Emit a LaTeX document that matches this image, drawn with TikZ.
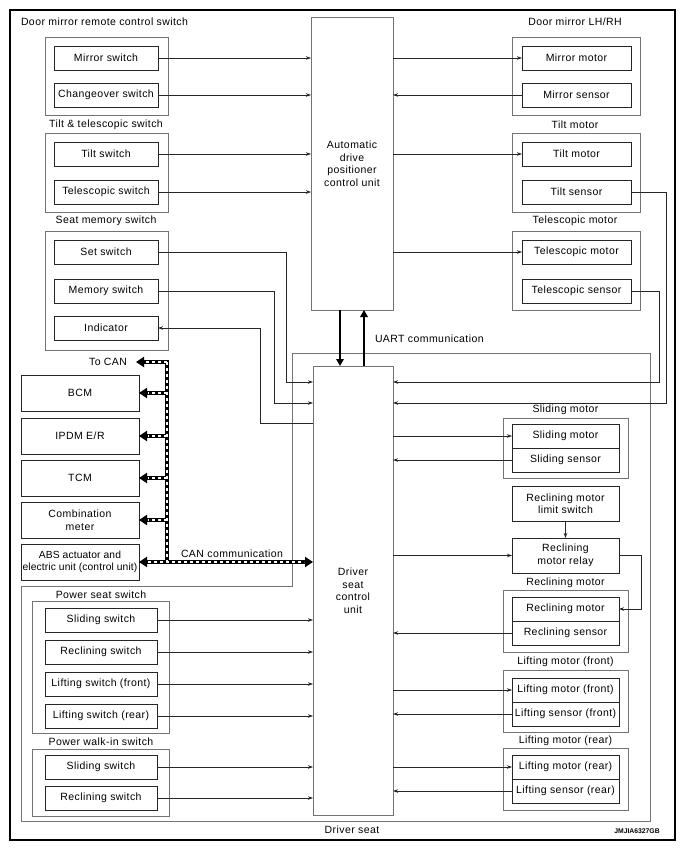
\documentclass[tikz,border=0pt]{standalone}
\usepackage{fontspec}
\setmainfont{Liberation Sans}[LetterSpace=4]
\newfontfamily\codefont{Liberation Sans}
\newfontfamily\tightfont{Liberation Sans}[LetterSpace=1]
\usetikzlibrary{arrows.meta}
\begin{document}
\begin{tikzpicture}[x=1pt,y=-1pt,
  font=\fontsize{10.5}{12.5}\selectfont,
  every node/.style={inner sep=1pt, outer sep=0pt},
  inbox/.style={draw=black!85, line width=0.7pt, align=center},
  grp/.style={draw=black!55, line width=0.9pt},
  unit/.style={draw=black!55, line width=0.9pt, align=center},
  arr/.style={draw=black!85, line width=0.7pt, -{Stealth[length=5pt,width=3.5pt]}},
  uart/.style={draw=black, line width=2.6pt, -{Triangle[length=7pt,width=7.5pt]}},
  canb/.style={draw=black, line width=4.4pt},
  canw/.style={draw=white, line width=1.8pt, dash pattern=on 3pt off 3pt},
  canarr/.style={-{Triangle[length=8pt,width=10pt]}},
  canarrs/.style={{Triangle[length=8pt,width=10pt]}-{Triangle[length=8pt,width=10pt]}}
]
\useasboundingbox (0,0) rectangle (686,850);
\fill[white] (0,0) rectangle (686,850);
\draw[line width=2.5pt] (10,10) rectangle (675,840);

% ---- left top: switches
\node[anchor=west] (lblDM) at (20,22) {Door mirror remote control switch};
\node[grp, minimum width=123, minimum height=78] (gDM) at (106.5,76) {};
\node[inbox, minimum width=104, minimum height=24] (msw) at (106,58) {Mirror switch};
\node[inbox, minimum width=104, minimum height=24] (cosw) at (106,95) {Changeover switch};
\node (lblTT) at (106,125) {Tilt \& telescopic switch};
\node[grp, minimum width=123, minimum height=79] (gTT) at (106.5,172.5) {};
\node[inbox, minimum width=104, minimum height=24] (tsw) at (106,154) {Tilt switch};
\node[inbox, minimum width=104, minimum height=24] (tesw) at (106,192) {Telescopic switch};
\node (lblSM) at (106,221) {Seat memory switch};
\node[grp, minimum width=123, minimum height=119] (gSM) at (106.5,290.5) {};
\node[inbox, minimum width=104, minimum height=24] (setsw) at (106,252) {Set switch};
\node[inbox, minimum width=104, minimum height=24] (memsw) at (106,291) {Memory switch};
\node[inbox, minimum width=104, minimum height=24] (ind) at (106,328) {Indicator};

% ---- ADPCU
\node[unit, minimum width=82, minimum height=293] (adp) at (352,163.5) {Automatic\\drive\\positioner\\control unit};

% ---- right top
\node (lblDR) at (575,22) {Door mirror LH/RH};
\node[grp, minimum width=128, minimum height=78] (gDR) at (576,76) {};
\node[inbox, minimum width=109, minimum height=24] (mmot) at (576.5,58) {Mirror motor};
\node[inbox, minimum width=109, minimum height=24] (msen) at (576.5,95) {Mirror sensor};
\node (lblTM) at (575,125) {Tilt motor};
\node[grp, minimum width=128, minimum height=79] (gTM) at (576,172.5) {};
\node[inbox, minimum width=109, minimum height=24] (tmot) at (576.5,154) {Tilt motor};
\node[inbox, minimum width=109, minimum height=24] (tsen) at (576.5,192) {Tilt sensor};
\node (lblTeM) at (575,221) {Telescopic motor};
\node[grp, minimum width=128, minimum height=79] (gTeM) at (576,270.5) {};
\node[inbox, minimum width=109, minimum height=24] (temot) at (576.5,252) {Telescopic motor};
\node[inbox, minimum width=109, minimum height=24] (tesen) at (576.5,291) {Telescopic sensor};

% ---- driver seat outline
\draw[grp] (292,353) -- (650,353) -- (650,821) -- (21,821) -- (21,586) -- (292,586) -- cycle;
\node (lblDS) at (352,829.5) {Driver seat};

% ---- DSCU
\node[unit, minimum width=80, minimum height=449] (dscu) at (353,590.5) {Driver\\seat\\control\\unit};

% ---- UART
\coordinate (uA) at (340,0);
\coordinate (uB) at (364,0);
\draw[uart] (adp.south -| uA) -- (dscu.north -| uA);
\draw[uart] (dscu.north -| uB) -- (adp.south -| uB);
\node[anchor=west] (lblUART) at (374,339) {UART communication};

% ---- CAN boxes
\node[inbox, minimum width=118, minimum height=36] (bcm) at (80,393) {BCM};
\node[inbox, minimum width=118, minimum height=36] (ipdm) at (80,436) {IPDM E/R};
\node[inbox, minimum width=118, minimum height=36] (tcm) at (80,478) {TCM};
\node[inbox, minimum width=118, minimum height=36] (comb) at (80,520) {Combination\\meter};
\node[inbox, minimum width=118, minimum height=36, inner sep=0pt, font=\tightfont\fontsize{10.3}{12.5}\selectfont] (abs) at (80,562) {ABS actuator and\\electric unit (control unit)};
\node[anchor=east] (tocan) at (128,362) {To CAN};

% ---- power seat switches
\node (lblPS) at (101,595) {Power seat switch};
\node[grp, minimum width=137, minimum height=132] (gPS) at (100.5,667) {};
\node[inbox, minimum width=112, minimum height=24] (sl1) at (101,620) {Sliding switch};
\node[inbox, minimum width=112, minimum height=24] (rc1) at (101,652) {Reclining switch};
\node[inbox, minimum width=112, minimum height=24] (lf1) at (101,684) {Lifting switch (front)};
\node[inbox, minimum width=112, minimum height=24] (lr1) at (101,716) {Lifting switch (rear)};
\node (lblPW) at (101,742) {Power walk-in switch};
\node[grp, minimum width=137, minimum height=67] (gPW) at (100.5,782.5) {};
\node[inbox, minimum width=112, minimum height=24] (sl2) at (101,767) {Sliding switch};
\node[inbox, minimum width=112, minimum height=24] (rc2) at (101,798) {Reclining switch};

% ---- right lower
\node (lblSLm) at (565.5,410) {Sliding motor};
\node[grp, minimum width=125, minimum height=60] (gSL) at (565.5,448) {};
\node[inbox, minimum width=107, minimum height=24] (slm) at (565.5,436) {Sliding motor};
\node[inbox, minimum width=107, minimum height=24] (sls) at (565.5,460) {Sliding sensor};
\node[inbox, minimum width=107, minimum height=35] (lim) at (565.5,503.5) {Reclining motor\\limit switch};
\node[inbox, minimum width=107, minimum height=35] (relay) at (565.5,555.5) {Reclining\\motor relay};
\node (lblRC) at (565.5,583) {Reclining motor};
\node[grp, minimum width=125, minimum height=62] (gRC) at (565.5,621) {};
\node[inbox, minimum width=107, minimum height=24] (rcm) at (565.5,609) {Reclining motor};
\node[inbox, minimum width=107, minimum height=24] (rcs) at (565.5,633) {Reclining sensor};
\node (lblLF) at (565.5,662) {Lifting motor (front)};
\node[grp, minimum width=125, minimum height=62] (gLF) at (565.5,701) {};
\node[inbox, minimum width=107, minimum height=24, inner sep=0pt] (lfm) at (565.5,690) {Lifting motor (front)};
\node[inbox, minimum width=107, minimum height=24, inner sep=0pt] (lfs) at (565.5,714) {Lifting sensor (front)};
\node (lblLR) at (565.5,741) {Lifting motor (rear)};
\node[grp, minimum width=125, minimum height=62] (gLR) at (565.5,779) {};
\node[inbox, minimum width=107, minimum height=24, inner sep=0pt] (lrm) at (565.5,767) {Lifting motor (rear)};
\node[inbox, minimum width=107, minimum height=24, inner sep=0pt] (lrs) at (565.5,791) {Lifting sensor (rear)};

\node[font=\codefont\fontsize{6.8}{7}\selectfont\bfseries] (code) at (637,831) {JMJIA6327GB};

% ---- arrows top
\draw[arr] (msw.east) -- (adp.west |- msw.east);
\draw[arr] (cosw.east) -- (adp.west |- cosw.east);
\draw[arr] (tsw.east) -- (adp.west |- tsw.east);
\draw[arr] (tesw.east) -- (adp.west |- tesw.east);
\draw[arr] (adp.east |- mmot.west) -- (mmot.west);
\draw[arr] (msen.west) -- (adp.east |- msen.west);
\draw[arr] (adp.east |- tmot.west) -- (tmot.west);
\draw[arr] (adp.east |- temot.west) -- (temot.west);

% ---- routed lines to DSCU
\coordinate (tsbend) at (666,403);
\coordinate (tesbend) at (659,382);
\coordinate (setbend) at (286,382);
\coordinate (membend) at (274,403);
\coordinate (indbend) at (260,423);
\draw[arr] (tsen.east) -| (tsbend) -- (dscu.east |- tsbend);
\draw[arr] (tesen.east) -| (tesbend) -- (dscu.east |- tesbend);
\draw[arr] (setsw.east) -| (setbend) -- (dscu.west |- setbend);
\draw[arr] (memsw.east) -| (membend) -- (dscu.west |- membend);
\draw[arr] (dscu.west |- indbend) -- (indbend) |- (ind.east);

% ---- CAN
\coordinate (cantop) at (167,362);
\coordinate (canbot) at (167,562);
\draw[canb, line cap=rect] (cantop) -- (canbot);
\draw[canb, canarr] (cantop) -- ([xshift=8pt]tocan.east);
\draw[canb, canarr] (cantop |- bcm.east) -- (bcm.east);
\draw[canb, canarr] (cantop |- ipdm.east) -- (ipdm.east);
\draw[canb, canarr] (cantop |- tcm.east) -- (tcm.east);
\draw[canb, canarr] (cantop |- comb.east) -- (comb.east);
\draw[canb, canarrs] (abs.east) -- (dscu.west |- abs.east);
\draw[canw] (cantop) -- (canbot);
\draw[canw, shorten >=9pt] (cantop) -- ([xshift=8pt]tocan.east);
\draw[canw, shorten >=9pt] (cantop |- bcm.east) -- (bcm.east);
\draw[canw, shorten >=9pt] (cantop |- ipdm.east) -- (ipdm.east);
\draw[canw, shorten >=9pt] (cantop |- tcm.east) -- (tcm.east);
\draw[canw, shorten >=9pt] (cantop |- comb.east) -- (comb.east);
\draw[canw, shorten >=9pt, shorten <=9pt] (abs.east) -- (dscu.west |- abs.east);
\node (lblCAN) at (232,554) {CAN communication};

% ---- power seat arrows
\draw[arr] (sl1.east) -- (dscu.west |- sl1.east);
\draw[arr] (rc1.east) -- (dscu.west |- rc1.east);
\draw[arr] (lf1.east) -- (dscu.west |- lf1.east);
\draw[arr] (lr1.east) -- (dscu.west |- lr1.east);
\draw[arr] (sl2.east) -- (dscu.west |- sl2.east);
\draw[arr] (rc2.east) -- (dscu.west |- rc2.east);

% ---- right lower arrows
\draw[arr] (dscu.east |- slm.west) -- (slm.west);
\draw[arr] (sls.west) -- (dscu.east |- sls.west);
\draw[arr] (lim.south) -- (relay.north);
\draw[arr] (dscu.east |- relay.west) -- (relay.west);
\draw[arr] (relay.east) -- ++(22,0) |- (rcm.east);
\draw[arr] (rcs.west) -- (dscu.east |- rcs.west);
\draw[arr] (dscu.east |- lfm.west) -- (lfm.west);
\draw[arr] (lfs.west) -- (dscu.east |- lfs.west);
\draw[arr] (dscu.east |- lrm.west) -- (lrm.west);
\draw[arr] (lrs.west) -- (dscu.east |- lrs.west);
\end{tikzpicture}
\end{document}
